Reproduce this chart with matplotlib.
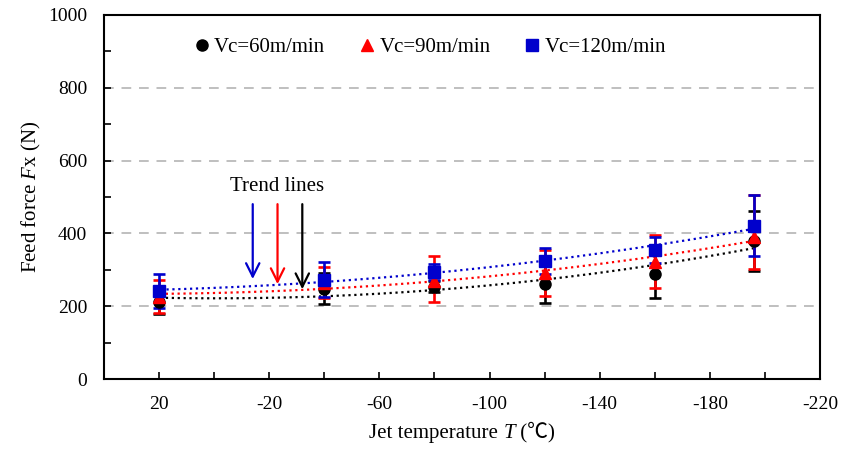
import numpy as np
import matplotlib
matplotlib.use('Agg')
import matplotlib.pyplot as plt
from matplotlib.ticker import MultipleLocator
from matplotlib.offsetbox import TextArea, HPacker, AnnotationBbox

# Fuente tipo Times para todo el gráfico
plt.rcParams['font.family'] = ['Liberation Serif', 'DejaVu Sans']
plt.rcParams['mathtext.fontset'] = 'custom'
plt.rcParams['mathtext.rm'] = 'Liberation Serif'
plt.rcParams['mathtext.it'] = 'Liberation Serif:italic'
plt.rcParams['axes.unicode_minus'] = False

# Datos
temperatures = [20, -40, -80, -120, -160, -196]
series_labels = ['Vc=60m/min', 'Vc=90m/min', 'Vc=120m/min']

force_60 = [212, 248, 254, 260, 288, 379]
err_60_low = [34, 42, 15, 52, 65, 83]
err_60_high = [34, 42, 15, 52, 65, 83]

force_90 = [226, 265, 269, 291, 322, 391]
err_90_low = [46, 42, 57, 63, 73, 90]
err_90_high = [46, 42, 70, 63, 74, 114]

force_120 = [242, 272, 295, 325, 354, 421]
err_120_low = [46, 47, 22, 36, 35, 83]
err_120_high = [46, 49, 22, 36, 35, 84]

colors = ['black', '#FF0000', '#0000CC']
markers = ['o', '^', 's']
marker_sizes = [8, 8.5, 8.5]

fig = plt.figure(figsize=(8.57, 4.49), dpi=100)
ax = fig.add_axes([0.1214, 0.1559, 0.8354, 0.8107])

series = [
    (force_60, err_60_low, err_60_high),
    (force_90, err_90_low, err_90_high),
    (force_120, err_120_low, err_120_high),
]

x = np.array(temperatures, dtype=float)
x_fit = np.linspace(x.min(), x.max(), 200)
handles = []
for (vals, lo, hi), col, mk, ms, lab in zip(series, colors, markers, marker_sizes, series_labels):
    # línea de tendencia polinómica de orden 2
    coef = np.polyfit(x, vals, 2)
    ax.plot(x_fit, np.polyval(coef, x_fit), linestyle=':', color=col, lw=1.6, zorder=2)
    ax.errorbar(x, vals, yerr=[lo, hi], fmt='none', ecolor=col, elinewidth=1.9,
                capsize=4, capthick=1.9, zorder=3)
    h, = ax.plot(x, vals, linestyle='none', marker=mk, color=col, markersize=ms,
                 label=lab, zorder=4)
    handles.append(h)

# Flechas de "Trend lines"
arrow_cols = ['#0000CC', '#FF0000', 'black']
arrow_x = [-14, -23, -32]
arrow_tip = [267, 253, 239]
for ac, axx, tip in zip(arrow_cols, arrow_x, arrow_tip):
    ax.annotate('', xy=(axx, tip), xytext=(axx, 488),
                arrowprops=dict(arrowstyle='->', color=ac, lw=1.6, mutation_scale=24))
ax.text(-23, 530, 'Trend lines', ha='center', va='center', fontsize=15)

ax.set_xlim(40, -220)
ax.set_ylim(0, 1000)
ax.set_xticks([20, -20, -60, -100, -140, -180, -220])
ax.set_xticks([0, -40, -80, -120, -160, -200], minor=True)
ax.yaxis.set_major_locator(MultipleLocator(200))
ax.yaxis.set_minor_locator(MultipleLocator(100))
ax.tick_params(which='both', direction='in', length=5, width=1.2, labelsize=14, pad=12)

ax.grid(True, axis='y', linestyle=(0, (5, 4)), color='#BFBFBF', lw=1.4)
ax.set_axisbelow(True)
for sp in ax.spines.values():
    sp.set_linewidth(1.5)

# Etiqueta X en partes (T en cursiva, símbolo ℃ desde fuente CJK)
fam = ['Liberation Serif', 'Noto Sans CJK SC']
parts = [
    TextArea('Jet temperature ', textprops=dict(fontsize=15, family=fam)),
    TextArea('T', textprops=dict(fontsize=15, family=fam, style='italic')),
    TextArea(' (\u2103)', textprops=dict(fontsize=15, family=fam)),
]
xlab = HPacker(children=parts, align='baseline', pad=0, sep=0)
ax.add_artist(AnnotationBbox(xlab, (0.5, -0.146), xycoords='axes fraction',
                             frameon=False, box_alignment=(0.5, 0.5),
                             annotation_clip=False))
ax.set_ylabel('Feed force $F$x (N)', fontsize=15, labelpad=4)

ax.legend(handles=handles, loc='center', bbox_to_anchor=(0.455, 0.912), ncol=3,
          frameon=False, fontsize=15, handlelength=0.8, handletextpad=0.2,
          columnspacing=1.6, borderpad=0)

fig.savefig('out.png', dpi=100)
